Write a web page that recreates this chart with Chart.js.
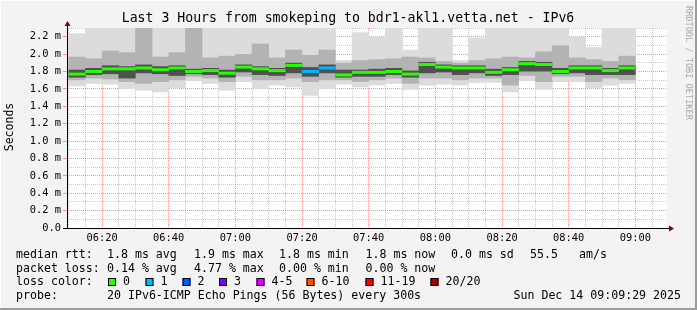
<!DOCTYPE html>
<html>
<head>
<meta charset="utf-8">
<script src="https://cdn.jsdelivr.net/npm/chart.js@4/dist/chart.umd.min.js"></script>
<style>
body { margin: 0; background: #f3f3f3; }
canvas { display: block; }
</style>
</head>
<body>
<canvas id="smoke" width="697" height="310"></canvas>
<script>
// ==========================
// data (ms)
// ==========================

const times = [
    "06:10","06:15","06:20","06:25","06:30","06:35","06:40","06:45","06:50","06:55",
    "07:00","07:05","07:10","07:15","07:20","07:25","07:30","07:35","07:40","07:45",
    "07:50","07:55","08:00","08:05","08:10","08:15","08:20","08:25","08:30","08:35",
    "08:40","08:45","08:50","08:55"
];

const rttMin = [1.63,1.66,1.65,1.60,1.58,1.56,1.61,1.69,1.66,1.58,
    1.68,1.60,1.64,1.62,1.52,1.60,1.65,1.62,1.64,1.66,
    1.59,1.64,1.65,1.64,1.67,1.67,1.56,1.69,1.59,1.68,
    1.68,1.61,1.64,1.66];

const rttLo = [1.70,1.72,1.71,1.68,1.66,1.68,1.70,1.74,1.72,1.68,
    1.74,1.70,1.70,1.72,1.68,1.70,1.70,1.68,1.70,1.72,
    1.66,1.72,1.72,1.70,1.72,1.72,1.64,1.75,1.68,1.74,
    1.74,1.68,1.72,1.70];

const coreLo = [1.73,1.76,1.77,1.72,1.78,1.77,1.75,1.77,1.76,1.73,
    1.79,1.76,1.75,1.78,1.74,1.78,1.73,1.74,1.74,1.76,
    1.73,1.78,1.79,1.76,1.78,1.75,1.76,1.80,1.80,1.77,
    1.78,1.76,1.76,1.76];

const rttMedian = [1.77,1.80,1.83,1.83,1.84,1.82,1.84,1.80,1.81,1.78,
    1.85,1.83,1.81,1.87,1.80,1.84,1.76,1.79,1.79,1.80,
    1.77,1.88,1.85,1.84,1.84,1.79,1.82,1.89,1.88,1.80,
    1.84,1.84,1.81,1.84];

const coreHi = [1.82,1.84,1.87,1.86,1.88,1.86,1.87,1.83,1.84,1.82,
    1.88,1.86,1.84,1.90,1.85,1.88,1.82,1.82,1.83,1.84,
    1.81,1.91,1.88,1.87,1.87,1.83,1.85,1.92,1.91,1.84,
    1.87,1.87,1.84,1.87];

const rttHi = [1.97,1.95,2.04,2.02,2.35,1.97,2.02,2.35,1.96,1.98,
    2.00,2.12,1.96,2.05,1.99,2.05,1.90,1.93,1.94,1.95,
    1.97,1.96,1.92,1.90,1.93,1.95,1.97,1.96,2.03,2.10,
    1.96,1.94,1.92,1.98];

const rttMax = [2.24,2.35,2.35,2.35,2.35,2.35,2.35,2.35,2.35,2.35,
    2.35,2.35,2.35,2.35,2.35,2.35,1.93,2.25,2.20,2.35,
    2.05,2.35,2.35,1.93,2.19,2.35,2.35,2.35,2.35,2.35,
    2.20,2.08,2.35,2.35];

// lost pings out of 20 per step
const lostPings = [0,0,0,0,0,0,0,0,0,0,
    0,0,0,0,1,1,0,0,0,0,
    0,0,0,0,0,0,0,0,0,0,
    0,0,0,0];

const yTicks = [0,0.2,0.4,0.6,0.8,1.0,1.2,1.4,1.6,1.8,2.0,2.2];
const yTickLabels = ["0.0","0.2 m","0.4 m","0.6 m","0.8 m","1.0 m","1.2 m","1.4 m","1.6 m","1.8 m","2.0 m","2.2 m"];
const xTickLabels = ["06:20","06:40","07:00","07:20","07:40","08:00","08:20","08:40","09:00"];

const lossLabels = ["0","1","2","3","4-5","6-10","11-19","20/20"];
const lossColors = ["#26ff00","#00b8ff","#0059ff","#7e00ff","#dd00ff","#ff5500","#ff0000","#a10000"];

const rttStats = ["1.8 ms avg","1.9 ms max","1.8 ms min","1.8 ms now","0.0 ms sd","55.5","am/s"];
const lossStats = ["0.14 % avg","4.77 % max","0.00 % min","0.00 % now"];

const titleText = "Last 3 Hours from smokeping to bdr1-akl1.vetta.net - IPv6";
const probeText = "20 IPv6-ICMP Echo Pings (56 Bytes) every 300s";
const dateText = "Sun Dec 14 09:09:29 2025";

// window: 06:09:29 .. 09:09:29 (minutes of day)
const xMin = 6*60 + 9 + 29/60;
const xMax = 9*60 + 9 + 29/60;


function toMin(s){
    const p = s.split(":");
    return Number(p[0])*60 + Number(p[1]);
}

const centers = times.map(t => toMin(t) + 2.5);

function band(lo, hi){
    return centers.map((x,i) => ({x: x, y: [lo[i], hi[i]]}));
}

function lossColor(n){
    if(n == 0) return lossColors[0];
    if(n == 1) return lossColors[1];
    if(n == 2) return lossColors[2];
    if(n == 3) return lossColors[3];
    if(n <= 5) return lossColors[4];
    if(n <= 10) return lossColors[5];
    if(n <= 19) return lossColors[6];
    return lossColors[7];
}

const mono = "'DejaVu Sans Mono', monospace";


// ==========================
// drawing helpers
// ==========================

const frame = {
    id: "frame",
    beforeDraw(chart){
        const ctx = chart.ctx;
        const a = chart.chartArea;
        ctx.save();
        ctx.fillStyle = "#f3f3f3";
        ctx.fillRect(0, 0, chart.width, chart.height);
        ctx.fillStyle = "#ffffff";
        ctx.fillRect(a.left, a.top, a.right - a.left, a.bottom - a.top);
        ctx.restore();
    },
    afterDraw(chart){
        const ctx = chart.ctx;
        const a = chart.chartArea;
        ctx.save();

        // axes
        ctx.strokeStyle = "#000";
        ctx.lineWidth = 1;
        ctx.beginPath();
        ctx.moveTo(a.left + 0.5, a.bottom + 0.5);
        ctx.lineTo(a.left + 0.5, a.top - 4);
        ctx.moveTo(a.left - 4, a.bottom + 0.5);
        ctx.lineTo(a.right + 3, a.bottom + 0.5);
        ctx.stroke();

        ctx.fillStyle = "#7f0000";
        ctx.beginPath();
        ctx.moveTo(a.left + 0.5, a.top - 7);
        ctx.lineTo(a.left - 2.5, a.top - 2);
        ctx.lineTo(a.left + 3.5, a.top - 2);
        ctx.fill();
        ctx.beginPath();
        ctx.moveTo(a.right + 7, a.bottom + 0.5);
        ctx.lineTo(a.right + 2, a.bottom - 2.5);
        ctx.lineTo(a.right + 2, a.bottom + 3.5);
        ctx.fill();

        // title
        ctx.fillStyle = "#000";
        ctx.textBaseline = "middle";
        ctx.textAlign = "center";
        ctx.font = "13.2px " + mono;
        ctx.fillText(titleText, 348, 19);

        // y title
        ctx.save();
        ctx.translate(10, 127);
        ctx.rotate(-Math.PI/2);
        ctx.font = "11.5px " + mono;
        ctx.fillText("Seconds", 0, 0);
        ctx.restore();

        // watermark
        ctx.save();
        ctx.translate(688, 6);
        ctx.rotate(Math.PI/2);
        ctx.textAlign = "left";
        ctx.font = "8.6px " + mono;
        ctx.fillStyle = "#aaaaaa";
        ctx.fillText("RRDTOOL / TOBI OETIKER", 0, 0);
        ctx.restore();

        // legend
        ctx.textAlign = "left";
        ctx.font = "11.6px " + mono;
        ctx.fillStyle = "#000";

        const r1 = 255, r2 = 268.5, r3 = 282, r4 = 296;
        ctx.fillText("median rtt:", 16, r1);
        const rttX = [107, 194, 279, 365.5, 451, 530, 579];
        rttStats.forEach((s,i) => ctx.fillText(s, rttX[i], r1));

        ctx.fillText("packet loss:", 16, r2);
        const lossX = [107, 194, 279, 365.5];
        lossStats.forEach((s,i) => ctx.fillText(s, lossX[i], r2));

        ctx.fillText("loss color:", 16, r3);
        const boxX = [108, 145.5, 182.5, 219, 256.5, 306.5, 365.5, 430.5];
        lossLabels.forEach((s,i) => {
            ctx.fillStyle = lossColors[i];
            ctx.fillRect(boxX[i], r3 - 4, 8, 8);
            ctx.strokeStyle = "#000";
            ctx.strokeRect(boxX[i] + 0.5, r3 - 3.5, 7, 7);
            ctx.fillStyle = "#000";
            ctx.fillText(s, boxX[i] + 15, r3);
        });

        ctx.fillText("probe:", 16, r4);
        ctx.fillText(probeText, 107, r4);
        ctx.textAlign = "right";
        ctx.fillText(dateText, 681, r4);

        // 3d frame
        ctx.fillStyle = "#ffffff";
        ctx.fillRect(0, 0, chart.width, 1);
        ctx.fillRect(0, 0, 1, chart.height);
        ctx.fillStyle = "#9c9c9c";
        ctx.fillRect(0, chart.height - 2, chart.width, 2);
        ctx.fillRect(chart.width - 2, 0, 2, chart.height);

        ctx.restore();
    }
};


// ==========================
// chart
// ==========================

const barOpts = {
    grouped: false,
    barPercentage: 1.03,
    categoryPercentage: 1,
    borderWidth: 0
};

new Chart(
    document.getElementById("smoke"),
    {
        type: "bar",

        data: {
            datasets: [
                Object.assign({ label: "outer", data: band(rttMin, rttMax), backgroundColor: "#dcdcdc", order: 4 }, barOpts),
                Object.assign({ label: "mid", data: band(rttLo, rttHi), backgroundColor: "#b3b3b3", order: 3 }, barOpts),
                Object.assign({ label: "core", data: band(coreLo, coreHi), backgroundColor: "#505050", order: 2 }, barOpts),
                Object.assign({
                    label: "median",
                    data: centers.map((x,i) => ({x: x, y: [rttMedian[i] - 0.017, rttMedian[i] + 0.017]})),
                    backgroundColor: lostPings.map(lossColor),
                    order: 1
                }, barOpts)
            ]
        },

        options: {
            responsive: false,
            animation: false,
            layout: { padding: { top: 28, right: 30, left: 0, bottom: 0 } },
            plugins: {
                legend: { display: false },
                tooltip: { enabled: false }
            },
            scales: {
                x: {
                    type: "linear",
                    min: xMin,
                    max: xMax,
                    offset: false,
                    z: 1,
                    afterFit(s){ s.height = 82; },
                    afterBuildTicks(s){
                        const t = [];
                        for(let m = 370; m <= 545; m += 5) t.push({value: m});
                        s.ticks = t;
                    },
                    grid: {
                        offset: false,
                        drawTicks: false,
                        color: c => (c.tick && c.tick.value % 20 == 0) ? "rgba(230,70,70,0.55)" : "rgba(150,150,150,0.5)"
                    },
                    border: { display: false, dash: [1,1] },
                    ticks: {
                        autoSkip: false,
                        maxRotation: 0,
                        padding: 4,
                        color: "#000",
                        font: { family: mono, size: 10.4 },
                        callback: v => {
                            const h = Math.floor(v/60), m = v % 60;
                            const s = String(h).padStart(2,"0") + ":" + String(m).padStart(2,"0");
                            return xTickLabels.includes(s) ? s : "";
                        }
                    }
                },
                y: {
                    min: 0,
                    max: 2.3,
                    z: 1,
                    afterFit(s){ s.width = 67; },
                    afterBuildTicks(s){
                        const t = [];
                        for(let k = 0; k <= 23; k++) t.push({value: k/10});
                        s.ticks = t;
                    },
                    grid: {
                        tickLength: 4,
                        color: c => (c.tick && c.tick.value > 0.001 && Math.round(c.tick.value*10) % 2 == 0) ? "rgba(230,70,70,0.55)" : "rgba(150,150,150,0.5)",
                        tickColor: c => (c.tick && Math.round(c.tick.value*10) % 2 == 0) ? "rgba(230,70,70,0.55)" : "rgba(0,0,0,0)"
                    },
                    border: { display: false, dash: [1,1] },
                    ticks: {
                        autoSkip: false,
                        padding: 2,
                        color: "#000",
                        font: { family: mono, size: 10.4 },
                        callback: v => {
                            const i = yTicks.findIndex(y => Math.abs(y - v) < 0.001);
                            return i >= 0 ? yTickLabels[i] : "";
                        }
                    }
                }
            }
        },

        plugins: [frame]
    }
);
</script>
</body>
</html>
